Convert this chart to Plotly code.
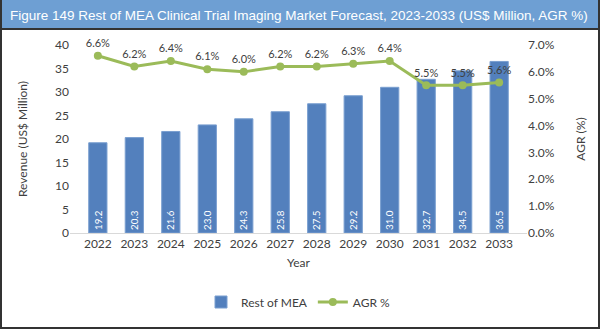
import plotly.graph_objects as go

years = ["2022", "2023", "2024", "2025", "2026", "2027", "2028", "2029", "2030", "2031", "2032", "2033"]
revenue = [19.2, 20.3, 21.6, 23.0, 24.3, 25.8, 27.5, 29.2, 31.0, 32.7, 34.5, 36.5]
agr = [6.6, 6.2, 6.4, 6.1, 6.0, 6.2, 6.2, 6.3, 6.4, 5.5, 5.5, 5.6]

W, H = 600, 329
L, R, T, B = 70, 73, 45, 96
pw, ph = W - L - R, H - T - B

def px(x):
    return (x - L) / pw

def py(y):
    return (H - B - y) / ph

FONT = "Lato, Open Sans, sans-serif"
BAR = "#5380bd"
GREEN = "#9bbb59"

fig = go.Figure()
fig.add_trace(go.Bar(
    x=years, y=revenue, name="Rest of MEA",
    marker=dict(color=BAR, line=dict(color="#7a9fd0", width=1)),
    width=0.5,
    text=[f"{v:.1f}" for v in revenue],
    textposition="inside", insidetextanchor="start", textangle=-90,
    textfont=dict(color="white", size=12, family=FONT),
    cliponaxis=False,
))
fig.add_trace(go.Scatter(
    x=years, y=agr, name="AGR %", yaxis="y2", mode="lines+markers+text",
    line=dict(color=GREEN, width=3), marker=dict(color=GREEN, size=8),
    text=[f"{v:.1f}%" for v in agr], textposition="top center",
    textfont=dict(color="#404040", size=11, family=FONT),
    cliponaxis=False,
))

shapes = [
    dict(type="rect", xref="paper", yref="paper", x0=px(0), x1=px(W), y0=py(28), y1=py(0),
         fillcolor="#6e9fd3", line=dict(width=0), layer="below"),
    dict(type="line", xref="paper", yref="paper", x0=px(0), x1=px(W), y0=py(29), y1=py(29),
         line=dict(color="#333333", width=2)),
    dict(type="line", xref="paper", yref="paper", x0=px(0), x1=px(W), y0=py(328), y1=py(328),
         line=dict(color="#333333", width=2)),
    dict(type="line", xref="paper", yref="paper", x0=px(1), x1=px(1), y0=py(0), y1=py(329),
         line=dict(color="#333333", width=2)),
    dict(type="line", xref="paper", yref="paper", x0=px(599), x1=px(599), y0=py(0), y1=py(329),
         line=dict(color="#333333", width=2)),
]

fig.update_layout(
    width=W, height=H, margin=dict(l=L, r=R, t=T, b=B),
    paper_bgcolor="white", plot_bgcolor="white",
    font=dict(family=FONT, color="#404040", size=12),
    showlegend=True,
    legend=dict(orientation="h", x=0.5, xanchor="center", y=py(302), yanchor="middle",
                font=dict(size=12, color="#404040", family=FONT), traceorder="normal"),
    annotations=[dict(text="Figure 149 Rest of MEA Clinical Trial Imaging Market Forecast, 2023-2033 (US$ Million, AGR %)",
                      xref="paper", yref="paper", x=px(8), y=py(15), xanchor="left", yanchor="middle",
                      showarrow=False, font=dict(family="Liberation Sans, Arial", size=13.5, color="white"))],
    shapes=shapes,
    bargap=0.5,
    xaxis=dict(showline=True, linecolor="#d9d9d9", linewidth=1, ticks="", showgrid=False,
               tickfont=dict(size=12, color="#404040"),
               title=dict(text="Year", font=dict(size=12, color="#404040"), standoff=8)),
    yaxis=dict(range=[0, 40], dtick=5, showgrid=False, zeroline=False, showline=False,
               tickfont=dict(size=12, color="#404040"),
               title=dict(text="Revenue (US$ Million)", font=dict(size=12, color="#404040"), standoff=24)),
    yaxis2=dict(range=[0, 7], dtick=1, overlaying="y", side="right", showgrid=False, zeroline=False,
                tickformat=".1f", ticksuffix="%",
                tickfont=dict(size=12, color="#404040"),
                title=dict(text="AGR (%)", font=dict(size=12, color="#404040"), standoff=22)),
)

fig.write_html("out.html")
